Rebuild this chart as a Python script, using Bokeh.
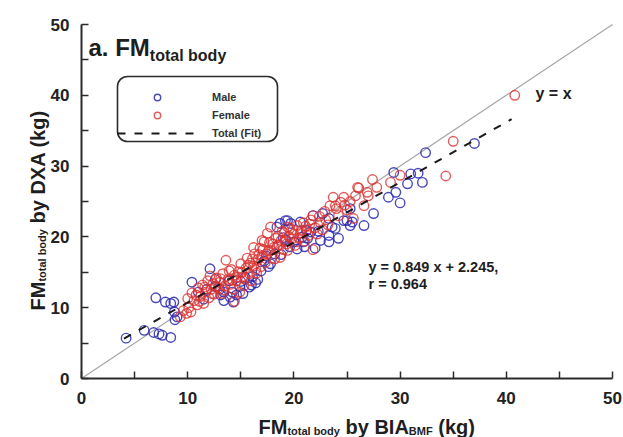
import math

from bokeh.plotting import figure
from bokeh.models import (Range1d, FixedTicker, Label, BoxAnnotation,
                          Legend, LegendItem, ColumnDataSource)
from bokeh.embed import file_html
from bokeh.resources import INLINE

# ---- data: total-body fat mass (kg), BIA (x) vs DXA (y) ----
male_bia = [4.2, 5.9, 6.8, 7.3, 7.6, 8.4, 7.0, 7.9, 8.4, 8.75, 9.0, 8.8, 8.7,
            10.4, 11.0, 11.5, 12.1, 12.6, 13.0, 13.4, 13.4, 13.9, 14.2, 14.3,
            14.6, 14.9, 15.2, 15.4, 15.8, 16.1, 16.4, 16.9, 17.4, 17.8, 18.2,
            18.4, 18.7, 19.2, 19.4, 19.7, 19.2, 19.6, 20.0, 20.3, 20.8, 20.9,
            21.3, 21.6, 21.8, 22.0, 22.3, 22.7, 23.3, 23.3, 23.3, 23.6, 24.7,
            25.0, 25.3, 25.3, 25.5, 26.6, 27.5, 28.9, 29.4, 29.6, 30.0, 30.7,
            31.0, 31.7, 32.1, 32.4, 37.0, 12.6, 13.1, 16.6, 17.6, 18.8, 19.0,
            21.0, 22.5, 11.8, 14.0, 15.0, 16.0, 17.2, 20.6, 21.2, 23.9, 24.2]
male_dxa = [5.7, 6.8, 6.5, 6.3, 6.1, 5.8, 11.4, 10.8, 10.6, 9.4, 8.7, 8.3, 10.8,
            13.6, 12.2, 11.2, 15.5, 14.0, 12.6, 12.2, 11.0, 13.8, 12.2, 10.8,
            11.8, 13.0, 12.0, 14.3, 12.9, 14.4, 13.5, 15.2, 17.3, 16.2, 17.6,
            21.4, 21.9, 22.3, 22.3, 21.9, 19.6, 18.6, 19.3, 18.3, 20.0, 19.3,
            19.8, 20.7, 23.0, 18.4, 20.8, 23.3, 22.6, 20.2, 19.3, 21.4, 22.3,
            22.3, 21.6, 24.0, 22.1, 21.6, 23.3, 25.6, 29.1, 26.3, 24.8, 27.5,
            28.9, 29.0, 27.7, 31.9, 33.2, 13.0, 11.8, 14.0, 15.8, 17.5, 19.9,
            18.6, 19.5, 12.6, 11.5, 13.7, 13.2, 16.6, 22.1, 20.9, 21.2, 19.8]

female_bia = [9.3, 9.6, 9.9, 10.1, 10.0, 10.4, 10.6, 10.9, 11.0, 11.2, 11.5,
              11.4, 11.7, 11.9, 12.0, 12.2, 12.4, 12.5, 12.7, 12.9, 13.0, 13.2,
              13.3, 13.5, 13.6, 13.8, 14.0, 14.1, 14.3, 14.4, 14.6, 14.8, 14.9,
              15.0, 15.2, 15.3, 15.5, 15.6, 15.8, 15.9, 16.0, 16.2, 16.2, 16.3,
              16.5, 16.6, 16.8, 16.9, 17.0, 17.0, 17.2, 17.3, 17.5, 17.6, 17.8,
              17.8, 17.9, 18.0, 18.2, 18.4, 18.5, 18.7, 18.8, 19.0, 19.1, 19.3,
              19.4, 19.4, 19.6, 19.8, 20.0, 20.1, 20.3, 20.5, 20.7, 20.9, 21.0,
              21.2, 21.4, 21.6, 21.8, 21.8, 22.0, 22.2, 22.5, 22.7, 23.0, 23.4,
              23.7, 23.9, 24.2, 24.4, 24.7, 25.0, 25.3, 25.6, 25.8, 26.0, 26.1,
              26.6, 26.9, 27.0, 27.4, 27.8, 29.1, 30.0, 34.3, 35.0, 40.8, 14.4,
              12.1, 10.3, 10.8, 11.1, 11.6, 12.3, 12.6, 13.1, 13.4, 13.9, 14.2,
              14.7, 15.1, 15.4, 15.7, 16.1, 16.4, 16.7, 17.1, 17.4, 17.7, 18.1,
              18.3, 18.6, 18.9, 19.2, 19.5, 19.9, 20.2, 20.6, 21.1, 21.5, 22.4,
              22.9, 23.2, 24.0, 24.8]
female_dxa = [8.7, 9.6, 9.2, 10.0, 11.3, 12.1, 11.0, 10.4, 12.8, 11.6, 10.6,
              13.2, 12.2, 13.8, 11.4, 12.6, 13.4, 11.9, 14.2, 12.8, 13.6, 12.0,
              14.8, 13.1, 16.7, 14.0, 13.3, 15.4, 12.6, 14.6, 13.8, 15.1, 12.2,
              16.2, 14.3, 13.1, 15.6, 17.0, 14.8, 16.3, 13.8, 18.5, 15.9, 17.6,
              14.9, 16.8, 18.4, 15.8, 17.3, 19.5, 19.3, 16.4, 20.5, 18.0, 21.4,
              18.1, 17.0, 19.0, 16.9, 18.6, 20.1, 17.1, 19.5, 18.2, 20.6, 19.0,
              18.1, 21.4, 21.2, 19.7, 20.4, 18.8, 21.6, 19.8, 20.9, 22.0, 19.4,
              21.0, 20.2, 22.4, 23.0, 18.2, 21.3, 20.4, 22.0, 21.0, 22.4, 24.4,
              25.6, 24.4, 23.0, 24.9, 25.6, 23.8, 25.0, 22.6, 25.8, 27.0, 26.9,
              24.4, 26.3, 25.8, 28.1, 27.0, 27.7, 28.7, 28.6, 33.5, 40.0, 10.9,
              14.5, 9.4, 11.8, 10.9, 12.9, 12.0, 13.0, 14.1, 12.5, 15.2, 13.9,
              14.3, 15.0, 14.0, 16.0, 16.9, 15.4, 17.5, 18.2, 17.6, 19.2, 18.5,
              19.8, 18.9, 20.8, 19.4, 20.1, 21.0, 19.3, 20.6, 21.5, 21.8, 22.9,
              23.6, 21.7, 24.0, 24.5]

# regression over all subjects
fit_slope = 0.849
fit_intercept = 2.245
fit_r = 0.964
fit_span = [4.0, 40.5]

axis_ticks = [0, 10, 20, 30, 40, 50]
axis_minor_ticks = [5, 15, 25, 35, 45]
axis_bounds = (0, 50)

FONT = "Liberation Sans"
MALE_COLOR = "#2a2ab0"
FEMALE_COLOR = "#dc3232"
AXIS_COLOR = "#2b2b2b"
TEXT_COLOR = "#1e1e1e"

# canvas size and where the 0..50 axes sit on it (pixels)
W, H = 623, 437
X0_PX, X50_PX = 81, 612
Y0_PX, Y50_PX = 378, 24
UX = (X50_PX - X0_PX) / 50.0
UY = (Y0_PX - Y50_PX) / 50.0


def px_x(sx):
    """canvas x pixel -> data x"""
    return (sx - X0_PX) / UX


def px_y(sy):
    """canvas y pixel -> data y"""
    return (Y0_PX - sy) / UY


# approximate Arial-bold advance widths (em) for laying out mixed-size labels
_W = {"F": .611, "M": .833, "t": .333, "o": .611, "a": .556, "l": .278,
      " ": .278, "b": .611, "d": .611, "y": .556, "B": .722, "I": .278,
      "A": .722, "(": .333, ")": .333, "k": .556, "g": .611, "D": .722,
      "X": .667, ".": .278}


def text_width(s, size):
    return sum(_W.get(c, .6) for c in s) * size


# the frame spans the whole canvas; the axes are pinned at 0 so that the
# axis titles (with subscripts) can be drawn as labels around them
p = figure(width=W, height=H,
           x_range=Range1d(px_x(0), px_x(W)),
           y_range=Range1d(px_y(H), px_y(0)),
           output_backend="svg", toolbar_location=None,
           min_border=0, min_border_left=0, min_border_right=0,
           min_border_top=0, min_border_bottom=0)
p.title.visible = False
p.outline_line_color = None
p.grid.visible = False
p.background_fill_color = "white"
p.border_fill_color = "white"

for ax in (p.xaxis[0], p.yaxis[0]):
    ax.fixed_location = 0
    ax.bounds = axis_bounds
    ax.ticker = FixedTicker(ticks=axis_ticks, minor_ticks=axis_minor_ticks)
    ax.axis_line_color = AXIS_COLOR
    ax.axis_line_width = 2
    ax.major_tick_line_color = AXIS_COLOR
    ax.minor_tick_line_color = AXIS_COLOR
    ax.major_tick_line_width = 1.5
    ax.minor_tick_line_width = 1.5
    ax.major_tick_in = 7
    ax.major_tick_out = 0
    ax.minor_tick_in = 7
    ax.minor_tick_out = 0
    ax.major_label_text_font = FONT
    ax.major_label_text_font_style = "bold"
    ax.major_label_text_font_size = "17px"
    ax.major_label_text_color = "#222222"
    ax.major_label_standoff = 13
    ax.axis_label = None
p.yaxis[0].major_label_standoff = 12

# identity line
p.line([0, 50], [0, 50], line_color="#a8a8a8", line_width=1.3)

# data
male_src = ColumnDataSource(dict(x=male_bia, y=male_dxa))
female_src = ColumnDataSource(dict(x=female_bia, y=female_dxa))
r_male = p.scatter("x", "y", source=male_src, marker="circle", size=9.5,
                   fill_color=None, line_color=MALE_COLOR, line_width=1.4,
                   line_alpha=0.85)
r_female = p.scatter("x", "y", source=female_src, marker="circle", size=9.5,
                     fill_color=None, line_color=FEMALE_COLOR, line_width=1.4,
                     line_alpha=0.8)

# regression line
fit_y = [fit_slope * x + fit_intercept for x in fit_span]
r_fit = p.line(fit_span, fit_y, line_color="#1a1a1a", line_width=2,
               line_dash="8 9")

# legend frame with rounded corners
p.add_layout(BoxAnnotation(left=px_x(117), right=px_x(277),
                           top=px_y(76), bottom=px_y(141),
                           fill_alpha=0, line_color=AXIS_COLOR, line_alpha=1,
                           line_width=1.6, border_radius=10))
legend = Legend(items=[LegendItem(label="Male", renderers=[r_male]),
                       LegendItem(label="Female", renderers=[r_female]),
                       LegendItem(label="Total (Fit)", renderers=[r_fit])],
                location=(117, H - 141),
                orientation="vertical",
                glyph_width=80, glyph_height=16, label_height=16,
                label_standoff=15, spacing=2, padding=5, margin=0,
                border_line_color=None, background_fill_alpha=0,
                label_text_font=FONT, label_text_font_style="bold",
                label_text_font_size="11px", label_text_color="#333333")
p.add_layout(legend)


def add_text(x, y, text, size, angle=0.0):
    p.add_layout(Label(x=x, y=y, text=text, text_font=FONT,
                       text_font_style="bold", text_font_size=f"{size}px",
                       text_color=TEXT_COLOR, text_align="left",
                       text_baseline="alphabetic", angle=angle))


def add_run(start, base, pieces, vertical=False):
    """Lay out (text, size, baseline shift) pieces one after another."""
    pos = start
    for txt, size, shift in pieces:
        lead = len(txt) - len(txt.lstrip(" "))
        pos += text_width(" " * lead, size) * (-1 if vertical else 1)
        word = txt.strip(" ")
        if vertical:
            add_text(px_x(base + shift), px_y(pos), word, size,
                     angle=math.pi / 2)
            pos -= text_width(word, size)
        else:
            add_text(px_x(pos), px_y(base + shift), word, size)
            pos += text_width(word, size)


# panel title with subscript
add_run(88, 47, [("a. FM", 24, 0), ("total body", 16, 8)])

# annotations
add_text(px_x(535), px_y(93), "y = x", 16)
add_text(px_x(368), px_y(266), f"y = {fit_slope} x + {fit_intercept},", 14.5)
add_text(px_x(368), px_y(283), f"r = {fit_r}", 14.5)

# axis titles
MAIN, SUB = 20, 11
add_run(258, 426, [("FM", MAIN, 0), ("total body", SUB, 4),
                   (" by BIA", MAIN, 0), ("BMF", SUB, 4),
                   (" (kg)", MAIN, 0)])
add_run(310, 37, [("FM", MAIN, 0), ("total body", SUB, 4),
                  (" by DXA (kg)", MAIN, 0)], vertical=True)

open("out.html", "w").write(file_html(p, INLINE))
